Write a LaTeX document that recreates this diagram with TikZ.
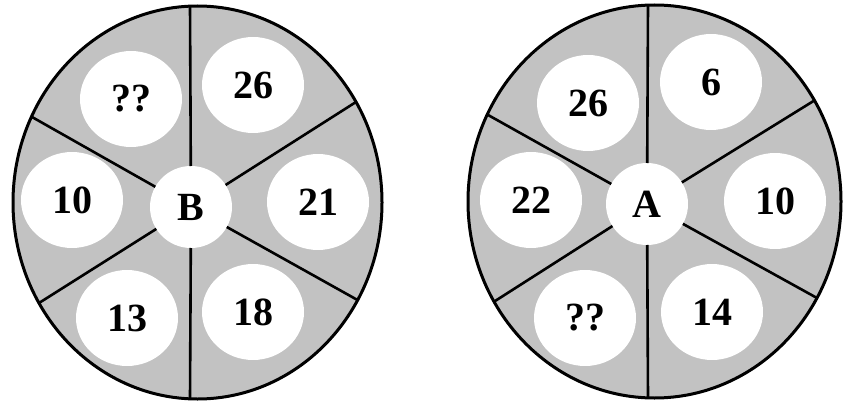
\documentclass[tikz,border=0pt]{standalone}
\usepackage{fontspec}
\setmainfont{Liberation Serif}
\usetikzlibrary{shapes.geometric}
\definecolor{wheelgray}{HTML}{C2C2C2}
\definecolor{rimblack}{HTML}{000000}

\begin{document}
\begin{tikzpicture}[x=1pt, y=-1pt,
    rim/.style={line width=3pt, draw=rimblack, fill=wheelgray},
    spoke/.style={line width=2.6pt, draw=rimblack},
    bubble/.style={ellipse, fill=white, inner sep=0pt, outer sep=0pt, minimum width=102pt, minimum height=96pt, font=\fontsize{40}{40}\selectfont\bfseries},
    hub/.style={circle, fill=white, inner sep=0pt, outer sep=0pt, minimum size=82pt, font=\fontsize{40}{40}\selectfont\bfseries}]
          \fill[white] (0,0) rectangle (845,406);
          \useasboundingbox (0,0) rectangle (845,406);

          % Rueda B
          \draw[rim] (197.5,202.5) ellipse [x radius=184.5, y radius=196.5];
          \coordinate (topB) at (190,6.2);
          \coordinate (botB) at (190,398.8);
          \coordinate (ulB) at (32,117);
          \coordinate (urB) at (356,102);
          \coordinate (llB) at (39,303);
          \coordinate (lrB) at (357.5,300);
          \node[hub] (hubB) at (191,207) {B};
          \node[bubble] (qB) at (131,99) {??};
          \node[bubble] (b26) at (253,85) {26};
          \node[bubble] (b10) at (72,200) {10};
          \node[bubble] (b21) at (318,202) {21};
          \node[bubble] (b13) at (127,318) {13};
          \node[bubble] (b18) at (253,312) {18};
          \draw[spoke] (hubB) -- (topB);
          \draw[spoke] (hubB) -- (botB);
          \draw[spoke] (hubB) -- (ulB);
          \draw[spoke] (hubB) -- (urB);
          \draw[spoke] (hubB) -- (llB);
          \draw[spoke] (hubB) -- (lrB);

          % Rueda A
          \draw[rim] (654.5,201.5) ellipse [x radius=186.5, y radius=196.5];
          \coordinate (topA) at (648,5.1);
          \coordinate (botA) at (648,397.9);
          \coordinate (ulA) at (487.2,114.5);
          \coordinate (urA) at (814.5,100.4);
          \coordinate (llA) at (494,301.7);
          \coordinate (lrA) at (817,298);
          \node[hub] (hubA) at (647,204) {A};
          \node[bubble] (a26) at (588,103) {26};
          \node[bubble] (a6) at (711,82) {6};
          \node[bubble] (a22) at (531,200) {22};
          \node[bubble] (a10) at (775,201) {10};
          \node[bubble] (qA) at (585,318) {??};
          \node[bubble] (a14) at (712,312) {14};
          \draw[spoke] (hubA) -- (topA);
          \draw[spoke] (hubA) -- (botA);
          \draw[spoke] (hubA) -- (ulA);
          \draw[spoke] (hubA) -- (urA);
          \draw[spoke] (hubA) -- (llA);
          \draw[spoke] (hubA) -- (lrA);
        \end{tikzpicture}
\end{document}
